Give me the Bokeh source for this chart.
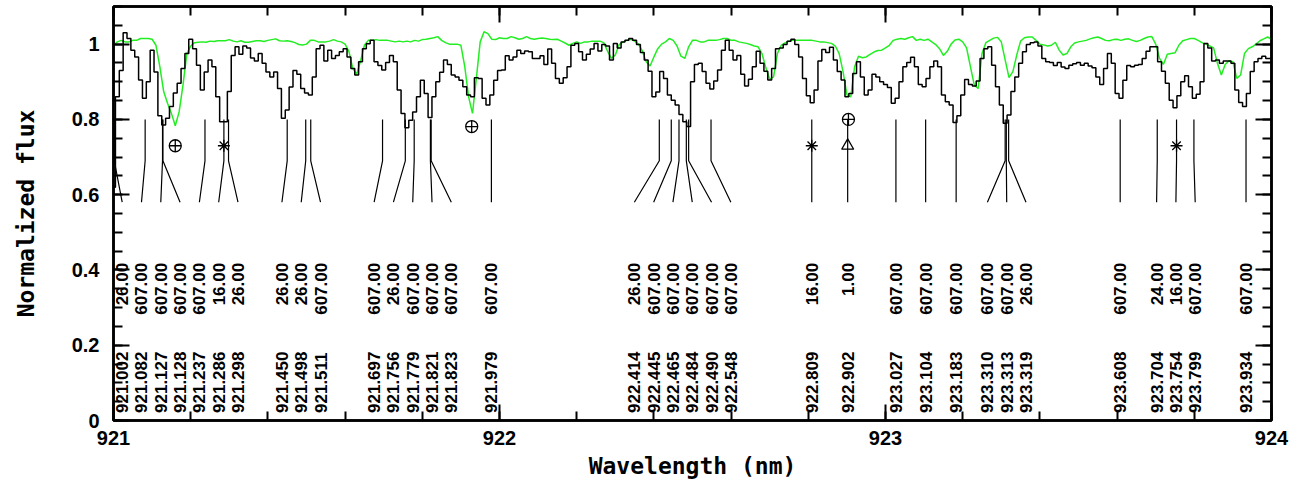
import math
from bokeh.plotting import figure
from bokeh.models import Range1d, LinearAxis, FixedTicker
from bokeh.core.properties import value
from bokeh.embed import file_html
from bokeh.resources import INLINE

# ---------------- data ----------------
WL_START = 921.0
WL_STEP = 0.01

observed_flux = [
    0.62, 0.86, 0.93, 1.03, 1.015, 0.984, 0.966, 0.905, 0.856, 0.90, 0.984,
    0.926, 0.81, 0.785, 0.803, 0.834, 0.87, 0.896, 0.935, 0.975, 1.013,
    0.988, 0.944, 0.878, 0.926, 0.958, 0.94, 0.86, 0.794, 0.794, 0.874,
    0.97, 0.993, 0.973, 0.995, 0.99, 0.963, 0.955, 0.975, 0.949, 0.926,
    0.913, 0.926, 0.882, 0.803, 0.825, 0.886, 0.93, 0.92, 0.882, 0.87,
    0.865, 0.913, 0.988, 0.997, 0.955, 0.984, 0.962, 0.97, 0.98, 0.988,
    0.966, 0.935, 0.918, 0.953, 0.988, 1.001, 1.01, 0.953, 0.943, 0.931,
    0.951, 0.97, 0.953, 0.878, 0.816, 0.778, 0.798, 0.82, 0.86, 0.904,
    0.869, 0.805, 0.86, 0.9, 0.925, 0.958, 0.946, 0.918, 0.913, 0.904,
    0.887, 0.865, 0.86, 0.911, 0.909, 0.856, 0.838, 0.865, 0.904, 0.93,
    0.931, 0.969, 0.958, 0.966, 0.984, 0.975, 0.982, 0.98, 0.962, 0.962,
    0.969, 0.946, 0.987, 0.949, 0.909, 0.896, 0.911, 0.94, 0.997, 1.002,
    0.98, 0.958, 0.973, 0.987, 1.002, 0.982, 0.999, 0.995, 0.958, 1.002,
    0.99, 1.006, 1.01, 1.015, 1.01, 0.999, 0.978, 0.958, 0.928, 0.86,
    0.873, 0.927, 0.909, 0.865, 0.851, 0.838, 0.813, 0.794, 0.781, 0.90,
    0.946, 0.949, 0.927, 0.896, 0.881, 0.902, 0.931, 0.984, 1.01, 0.984,
    0.958, 0.97, 0.92, 0.889, 0.907, 0.94, 0.981, 0.949, 0.928, 0.905,
    0.935, 0.988, 0.99, 0.999, 1.008, 1.013, 0.999, 0.966, 0.909, 0.863,
    0.844, 0.878, 0.955, 0.986, 0.978, 0.992, 0.958, 0.927, 0.905, 0.86,
    0.869, 0.922, 0.953, 0.913, 0.865, 0.878, 0.92, 0.913, 0.90, 0.893,
    0.885, 0.843, 0.856, 0.90, 0.94, 0.951, 0.965, 0.94, 0.893, 0.887,
    0.909, 0.94, 0.955, 0.94, 0.865, 0.847, 0.838, 0.792, 0.81, 0.865,
    0.906, 0.893, 0.889, 0.902, 0.962, 0.988, 0.993, 0.944, 0.887, 0.838,
    0.79, 0.812, 0.874, 0.913, 0.949, 0.98, 0.999, 1.004, 1.006, 0.995,
    0.962, 0.953, 0.951, 0.943, 0.951, 0.939, 0.935, 0.944, 0.948, 0.951,
    0.944, 0.949, 0.942, 0.937, 0.913, 0.893, 0.935, 0.975, 0.949, 0.869,
    0.856, 0.904, 0.943, 0.94, 0.944, 0.946, 0.962, 0.981, 0.993, 0.993,
    0.953, 0.928, 0.896, 0.851, 0.831, 0.863, 0.90, 0.916, 0.887, 0.856,
    0.867, 0.90, 1.002, 0.99, 0.955, 0.958, 0.949, 0.955, 0.955, 0.949,
    0.878, 0.845, 0.834, 0.869, 0.927, 0.953, 0.962, 0.968, 0.962, 0.962,
]

telluric_flux = [
    0.997, 1.006, 1.01, 1.006, 1.006, 1.01, 1.01, 1.015, 1.015, 1.015, 1.013,
    0.997, 0.94, 0.874, 0.843, 0.816, 0.783, 0.82, 0.891, 0.975, 0.995,
    1.004, 1.005, 1.006, 1.005, 1.008, 1.007, 1.009, 1.009, 1.009, 1.012,
    1.008, 1.006, 1.009, 1.005, 1.005, 1.007, 1.009, 1.009, 1.007, 1.01,
    1.012, 1.014, 1.009, 1.008, 1.009, 1.007, 1.004, 0.999, 0.998, 1.0,
    1.01, 1.01, 1.006, 1.006, 1.006, 1.008, 1.012, 1.008, 1.006, 1.0,
    0.98, 0.935, 0.92, 0.955, 0.997, 1.01, 1.01, 1.012, 1.01, 1.01,
    1.01, 1.008, 1.006, 1.008, 1.006, 1.008, 1.006, 1.01, 1.008, 1.012,
    1.013, 1.015, 1.017, 1.02, 1.01, 1.004, 1.0, 1.0, 1.0, 0.997,
    0.94, 0.86, 0.816, 0.909, 1.006, 1.033, 1.028, 1.013, 1.012, 1.017,
    1.015, 1.015, 1.02, 1.017, 1.013, 1.015, 1.02, 1.015, 1.013, 1.015,
    1.016, 1.015, 1.013, 1.012, 1.013, 1.008, 1.003, 0.997, 1.002, 1.006,
    1.002, 1.006, 1.006, 1.008, 1.008, 1.008, 1.004, 0.981, 0.962, 0.971,
    0.999, 1.006, 1.01, 1.013, 1.008, 1.0, 0.982, 0.953, 0.942, 0.966,
    0.988, 1.0, 1.006, 1.015, 1.01, 0.995, 0.968, 0.962, 0.993, 1.01,
    1.01, 1.006, 1.006, 1.01, 1.01, 1.01, 1.012, 1.015, 1.015, 1.01,
    1.01, 1.006, 1.004, 1.002, 0.999, 0.995, 0.993, 0.975, 0.937, 0.907,
    0.913, 0.975, 0.997, 1.003, 1.008, 1.01, 1.01, 1.01, 1.01, 1.01,
    1.01, 1.008, 1.006, 1.006, 1.004, 1.002, 0.995, 0.975, 0.927, 0.865,
    0.86, 0.94, 0.968, 0.964, 0.966, 0.973, 0.979, 0.983, 0.984, 0.99,
    0.997, 1.01, 1.013, 1.015, 1.013, 1.017, 1.02, 1.01, 1.013, 1.01,
    1.013, 1.006, 0.999, 0.988, 0.97, 0.981, 1.0, 1.011, 1.013, 1.006,
    0.99, 0.94, 0.891, 0.882, 0.975, 1.004, 1.01, 1.016, 1.018, 1.006,
    0.958, 0.911, 0.927, 0.971, 1.008, 1.017, 1.019, 1.019, 1.01, 1.0,
    0.998, 0.995, 0.997, 1.005, 0.984, 0.971, 0.975, 0.993, 1.003, 1.006,
    1.008, 1.01, 1.014, 1.017, 1.019, 1.015, 1.01, 1.009, 1.012, 1.013,
    1.01, 1.013, 1.014, 1.01, 1.007, 1.01, 1.015, 1.019, 1.02, 1.0,
    0.962, 0.946, 0.973, 0.975, 0.977, 0.997, 1.009, 1.012, 1.015, 1.015,
    1.01, 1.004, 1.0, 0.995, 0.99, 0.949, 0.918, 0.946, 0.956, 0.953,
    0.909, 0.918, 0.975, 0.988, 0.993, 1.0, 1.009, 1.014, 1.019, 1.013,
]

line_wl = [921.002, 921.082, 921.127, 921.128, 921.237, 921.286, 921.298,
           921.450, 921.498, 921.511,
           921.697, 921.756, 921.779, 921.821, 921.823,
           921.979,
           922.414, 922.445, 922.465, 922.484, 922.490, 922.548,
           922.809, 922.902,
           923.027, 923.104, 923.183,
           923.310, 923.313, 923.319,
           923.608,
           923.704, 923.754, 923.799,
           923.934]
line_species = ["26.00", "607.00", "607.00", "607.00", "607.00", "16.00", "26.00",
                "26.00", "26.00", "607.00",
                "607.00", "26.00", "607.00", "607.00", "607.00",
                "607.00",
                "26.00", "607.00", "607.00", "607.00", "607.00", "607.00",
                "16.00", "1.00",
                "607.00", "607.00", "607.00",
                "607.00", "607.00", "26.00",
                "607.00",
                "24.00", "16.00", "607.00",
                "607.00"]

telluric_mark_wl = [921.160, 921.928, 922.904]
telluric_mark_y = [0.730, 0.781, 0.800]

x_ticks = [921, 922, 923, 924]
y_ticks = [0, 0.2, 0.4, 0.6, 0.8, 1.0]
y_tick_labels = ["0", "0.2", "0.4", "0.6", "0.8", "1"]

# ---------------- helpers ----------------
wave = [round(WL_START + WL_STEP * i, 3) for i in range(len(observed_flux))]


def spread_labels(ws, sep=0.05, gap=0.07, lo=921.0225, hi=923.9775):
    clusters = [[w] for w in ws]

    def place(c):
        n = len(c)
        mean = sum(c) / n
        start = mean - sep * (n - 1) / 2
        start = max(start, lo)
        start = min(start, hi - sep * (n - 1))
        return [start + sep * i for i in range(n)]

    changed = True
    while changed:
        changed = False
        for i in range(len(clusters) - 1):
            a = place(clusters[i])
            b = place(clusters[i + 1])
            if b[0] - a[-1] < gap:
                clusters[i] = clusters[i] + clusters[i + 1]
                del clusters[i + 1]
                changed = True
                break
    out = []
    for c in clusters:
        out.extend(place(c))
    return out


label_x = spread_labels(line_wl)

FONT = value("Liberation Sans")
MONO = "DejaVu Sans Mono"

# ---------------- figure ----------------
p = figure(width=1300, height=490,
           x_range=Range1d(921, 924), y_range=Range1d(0, 1.1),
           output_backend="svg", toolbar_location=None,
           min_border_left=113, min_border_right=29,
           min_border_top=6, min_border_bottom=70)
p.xgrid.visible = False
p.ygrid.visible = False
p.outline_line_color = "black"
p.outline_line_width = 2.5
p.background_fill_color = "white"

# spectra
p.line(wave, telluric_flux, line_color="#22ee22", line_width=1.5)
p.step(wave, observed_flux, mode="center", line_color="black", line_width=1.5)

# line identification ticks
xs = [[w, w, lx] for w, lx in zip(line_wl, label_x)]
ys = [[0.80, 0.69, 0.58] for _ in line_wl]
p.multi_line(xs, ys, line_color="black", line_width=1.2)

p.text(x=label_x, y=[0.02] * len(label_x), text=[f"{w:.3f}" for w in line_wl],
       angle=math.pi / 2, text_align="left", text_baseline="middle",
       text_font=FONT, text_font_style="bold", text_font_size="17px",
       text_color="black")
p.text(x=label_x, y=[0.419] * len(label_x), text=line_species,
       angle=math.pi / 2, text_align="right", text_baseline="middle",
       text_font=FONT, text_font_style="bold", text_font_size="17px",
       text_color="black")

# symbols
s_x = [w for w, s in zip(line_wl, line_species) if s == "16.00"]
h_x = [w for w, s in zip(line_wl, line_species) if s == "1.00"]
p.scatter(s_x, [0.73] * len(s_x), marker="asterisk", size=12,
          line_color="black", line_width=1.3)
p.scatter(h_x, [0.73] * len(h_x), marker="triangle", size=12,
          fill_color=None, line_color="black", line_width=1.3)
p.scatter(telluric_mark_wl, telluric_mark_y, marker="circle_cross", size=12,
          fill_color=None, line_color="black", line_width=1.3)

# axes
xt = FixedTicker(ticks=x_ticks,
                 minor_ticks=[round(921 + 0.2 * i, 1) for i in range(16)])
yt = FixedTicker(ticks=y_ticks,
                 minor_ticks=[round(0.05 * i, 2) for i in range(23)])

bx = p.xaxis[0]
ly = p.yaxis[0]
tx = LinearAxis()
ry = LinearAxis()
p.add_layout(tx, "above")
p.add_layout(ry, "right")

for ax, tk in ((bx, xt), (tx, xt), (ly, yt), (ry, yt)):
    ax.ticker = tk
    ax.axis_line_width = 2.5
    ax.axis_line_color = "black"
    ax.major_tick_in = 16
    ax.major_tick_out = 0
    ax.minor_tick_in = 9
    ax.minor_tick_out = 0
    ax.major_tick_line_width = 2
    ax.minor_tick_line_width = 2
    ax.major_tick_line_color = "black"
    ax.minor_tick_line_color = "black"
    ax.major_label_text_font = "Liberation Sans"
    ax.major_label_text_font_style = "bold"
    ax.major_label_text_font_size = "20px"
    ax.major_label_text_color = "black"

for ax in (tx, ry):
    ax.major_label_text_color = None
    ax.major_label_text_font_size = "1px"
    ax.major_label_standoff = 0

bx.major_label_overrides = {t: str(t) for t in x_ticks}
ly.major_label_overrides = {t: s for t, s in zip(y_ticks, y_tick_labels)}
bx.major_label_standoff = 10
ly.major_label_standoff = 14

bx.axis_label = "Wavelength (nm)"
ly.axis_label = "Normalized flux"
for ax in (bx, ly):
    ax.axis_label_text_font = MONO
    ax.axis_label_text_font_style = "bold"
    ax.axis_label_text_font_size = "23px"
    ax.axis_label_text_color = "black"
bx.axis_label_standoff = 5
ly.axis_label_standoff = 30

open("out.html", "w").write(file_html(p, INLINE))
